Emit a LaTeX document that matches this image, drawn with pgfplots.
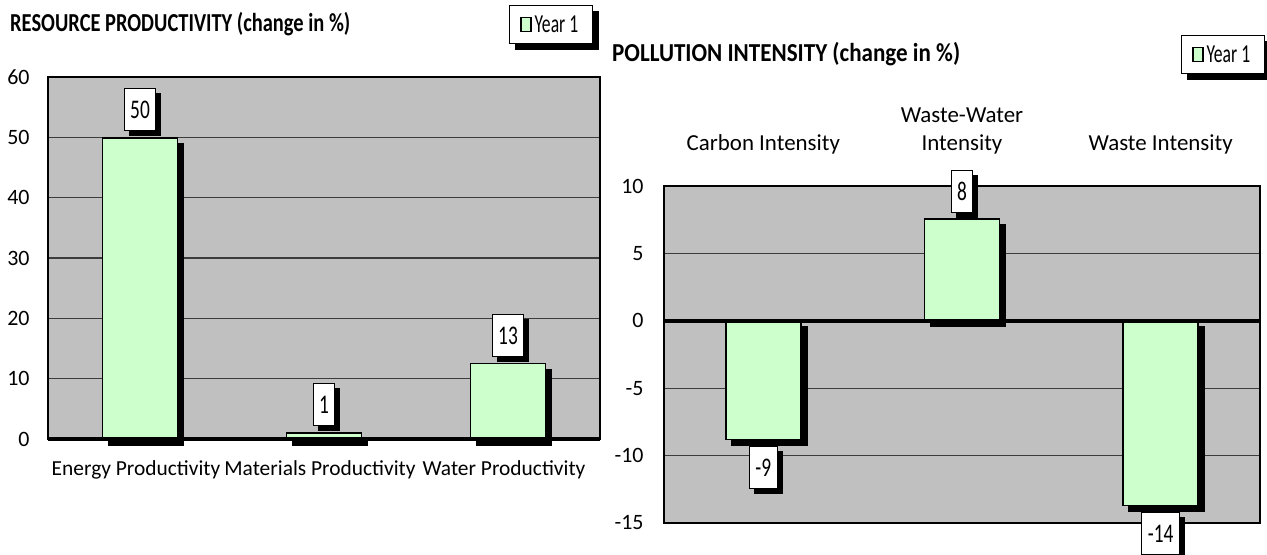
\documentclass[border=0pt]{standalone}
\usepackage{graphicx}
\usepackage{pgfplots}
\pgfplotsset{compat=1.18}
\usepackage{fontspec}
\setmainfont{Carlito}
\usetikzlibrary{shadows}
\makeatletter
\tikzset{noshadow/.code={\let\tikz@preactions\pgfutil@empty}}
\makeatother
\pgfdeclarelayer{bg}
\pgfsetlayers{bg,main}
\definecolor{barfill}{RGB}{204,255,204}
\definecolor{plotbg}{RGB}{192,192,192}
\definecolor{gridc}{RGB}{60,60,60}
\newcommand{\tickfont}{\fontsize{22}{26}\selectfont}
\pgfplotsset{
  myaxis/.style={
    scale only axis,
    axis background/.style={fill=plotbg},
    axis line style={black, line width=1.8bp},
    ymajorgrids,
    major grid style={gridc, line width=1.2bp},
    xtick={0,1,2},
    xmin=-0.5, xmax=2.5,
    major tick length=0pt,
    yticklabel style={font=\tickfont},
    /pgf/number format/assume math mode=true,
    clip=false,
    ybar, bar width=75bp,
    legend style={draw=black, line width=1.2bp, fill=white,
      font=\fontsize{26}{30}\selectfont, inner xsep=11bp, inner ysep=6bp,
      nodes={inner xsep=3bp, inner ysep=4bp}},
    nodes near coords={\scalebox{0.72}[1]{\pgfmathprintnumber[fixed,precision=0]{\pgfplotspointmeta}}},
    nodes near coords style={font=\fontsize{27}{30}\selectfont, fill=white, draw=black, line width=1bp,
      text height=18bp, text depth=0bp, inner xsep=6bp, inner ysep=12bp, outer ysep=7bp,
      drop shadow={shadow xshift=5bp, shadow yshift=-5bp, fill=black, opacity=1}},
  },
  barstyle/.style={fill=barfill, draw=black, line width=1.4bp,
    drop shadow={shadow xshift=6bp, shadow yshift=-6bp, fill=black, opacity=1},
    bar shift=0pt, point meta=y, forget plot},
  legsq/.style={legend image code/.code={\draw[noshadow, fill=barfill, draw=black, line width=1.2bp] (0bp,-7bp) rectangle (10bp,7bp);}},
}
\begin{document}
\begin{tikzpicture}
\useasboundingbox (0,0) rectangle (1267bp,555bp);
% Left panel
\begin{axis}[myaxis,
  at={(48bp,116bp)}, anchor=south west,
  width=552bp, height=362bp,
  ymin=0, ymax=60, ytick={0,10,...,60},
  yticklabel style={xshift=-15bp},
  xticklabels={Energy Productivity, Materials Productivity, Water Productivity},
  xticklabel style={font=\fontsize{21.5}{26}\selectfont, yshift=-18bp, xshift=-4bp},
  legend style={at={(0.987,1.199)}, anchor=north east, name=legL},
  after end axis/.code={\draw[black, line width=4bp] (rel axis cs:0,0) -- (rel axis cs:1,0);},
]
\addplot[barstyle] coordinates {(0,49.9) (1,1.0) (2,12.55)};
\addlegendimage{legsq}
\addlegendentry{\scalebox{0.68}[1]{Year 1}}
\end{axis}
% Right panel
\begin{axis}[myaxis,
  at={(664bp,32bp)}, anchor=south west,
  width=596bp, height=337bp,
  ymin=-15, ymax=10, ytick={-15,-10,...,10},
  yticklabel style={xshift=-17bp},
  xticklabel pos=upper,
  xticklabels={Carbon Intensity, {Waste-Water\\Intensity}, Waste Intensity},
  xticklabel style={font=\fontsize{23}{28}\selectfont, align=center, yshift=28bp},
  legend style={at={(1.008,1.448)}, anchor=north east, name=legR},
  after end axis/.code={\draw[black, line width=4bp] (axis cs:-0.5,0) -- (axis cs:2.5,0);},
]
\addplot[barstyle] coordinates {(0,-8.8) (1,7.55) (2,-13.7)};
\addlegendimage{legsq}
\addlegendentry{\scalebox{0.68}[1]{Year 1}}
\end{axis}
\begin{pgfonlayer}{bg}
\fill[black] ([shift={(6bp,-6bp)}]legL.south west) rectangle ([shift={(6bp,-6bp)}]legL.north east);
\fill[black] ([shift={(6bp,-6bp)}]legR.south west) rectangle ([shift={(6bp,-6bp)}]legR.north east);
\end{pgfonlayer}
\node[anchor=base west, font=\bfseries\fontsize{26}{30}\selectfont, inner sep=0] at (10bp,523bp) {\scalebox{0.79}[1]{RESOURCE PRODUCTIVITY (change in \%)}};
\node[anchor=base west, font=\bfseries\fontsize{26}{30}\selectfont, inner sep=0] at (612bp,493bp) {\scalebox{0.89}[1]{POLLUTION INTENSITY (change in \%)}};
\end{tikzpicture}
\end{document}
